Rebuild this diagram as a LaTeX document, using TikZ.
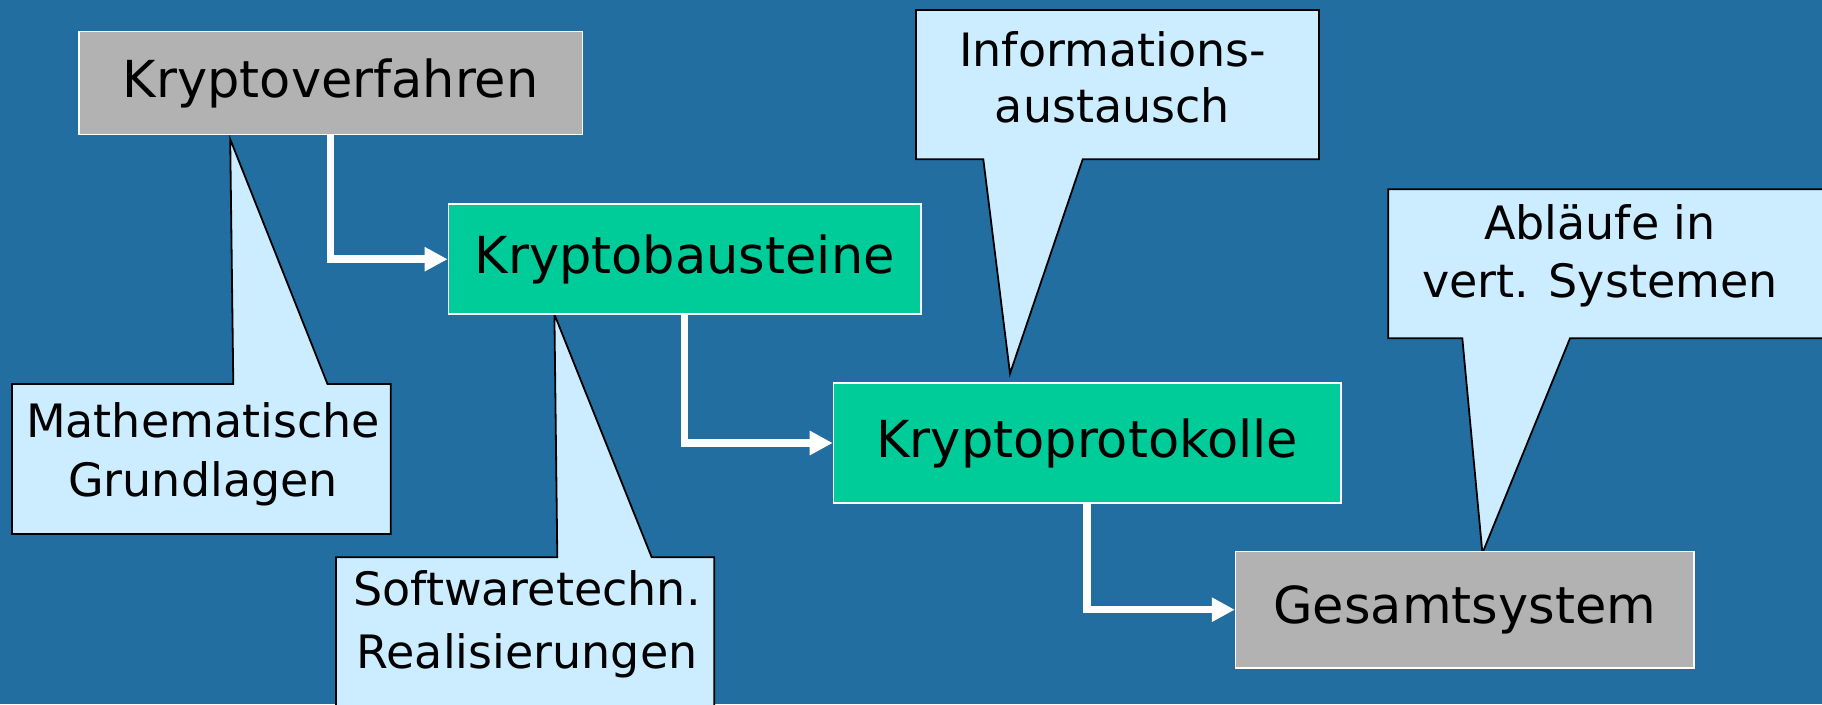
\documentclass[tikz,border=0pt]{standalone}
\usepackage{fontspec}
\setmainfont{DejaVu Sans}
\usetikzlibrary{arrows.meta}
\definecolor{bgblue}{RGB}{35,110,160}
\definecolor{boxgrey}{RGB}{178,178,178}
\definecolor{boxgreen}{RGB}{0,204,153}
\definecolor{notefill}{RGB}{204,236,255}
\begin{document}
\begin{tikzpicture}[x=1pt,y=-1pt,
  mainbox/.style={draw=white, line width=1.5pt, inner sep=0pt, font=\fontsize{51}{61}\selectfont},
  notebody/.style={fill=notefill, draw=black, line width=1.8pt, line join=miter},
  notetext/.style={inner sep=0pt, align=center},
  flow/.style={draw=white, line width=7.5pt, -{Triangle[length=23pt,width=23pt]}}]
\useasboundingbox (0,0) rectangle (1822,704);
\clip (0,0) rectangle (1822,704);
\fill[bgblue] (0,0) rectangle (1822,704);

% callout tips
\coordinate (tipA) at (230.2,139.2);
\coordinate (tipB) at (554.4,314.3);
\coordinate (tipC) at (1010,373.6);
\coordinate (tipD) at (1482.4,553.2);

% callout bodies
\draw[notebody] (12,384) -- (233.3,384) -- (tipA) -- (327.5,384) -- (390.7,384)
  -- (390.7,534) -- (12,534) -- cycle;
\draw[notebody] (336,557.3) -- (557.3,557.3) -- (tipB) -- (651.7,557.3) -- (714.3,557.3)
  -- (714.3,712) -- (336,712) -- cycle;
\draw[notebody] (916,10) -- (1319,10) -- (1319,159.3) -- (1082.7,159.3) -- (tipC)
  -- (983.3,159.3) -- (916,159.3) -- cycle;
\draw[notebody] (1388.3,189.3) -- (1832,189.3) -- (1832,338.3) -- (1570,338.3) -- (tipD)
  -- (1462.3,338.3) -- (1388.3,338.3) -- cycle;

% callout texts
\node[notetext, font=\fontsize{46}{59.3}\selectfont] (math) at (203,454.3) {Mathematische\\Grundlagen};
\node[notetext, font=\fontsize{46}{63.3}\selectfont] (soft) at (527,624.6) {Softwaretechn.\\Realisierungen};
\node[notetext, font=\fontsize{46}{56}\selectfont] (info) at (1112.5,77.5) {Informations-\\austausch};
\node[notetext, font=\fontsize{46}{57.4}\selectfont] (ablauf) at (1600,256) {Abläufe in\\vert. Systemen};

% main boxes
\node[mainbox, fill=boxgrey, minimum width=503.5pt, minimum height=103pt] (kv) at (330.7,83) {Kryptoverfahren};
\node[mainbox, fill=boxgreen, minimum width=472.7pt, minimum height=110pt] (kb) at (684.7,259.2) {Kryptobausteine};
\node[mainbox, fill=boxgreen, minimum width=507.5pt, minimum height=120pt] (kp) at (1087.2,443) {Kryptoprotokolle};
\node[mainbox, fill=boxgrey, minimum width=458.5pt, minimum height=116.6pt] (gs) at (1464.8,609.7) {Gesamtsystem};

% flow arrows
\draw[flow] (kv.south) |- (kb.west);
\draw[flow] (kb.south) |- (kp.west);
\draw[flow] (kp.south) |- (gs.west);
\end{tikzpicture}
\end{document}
